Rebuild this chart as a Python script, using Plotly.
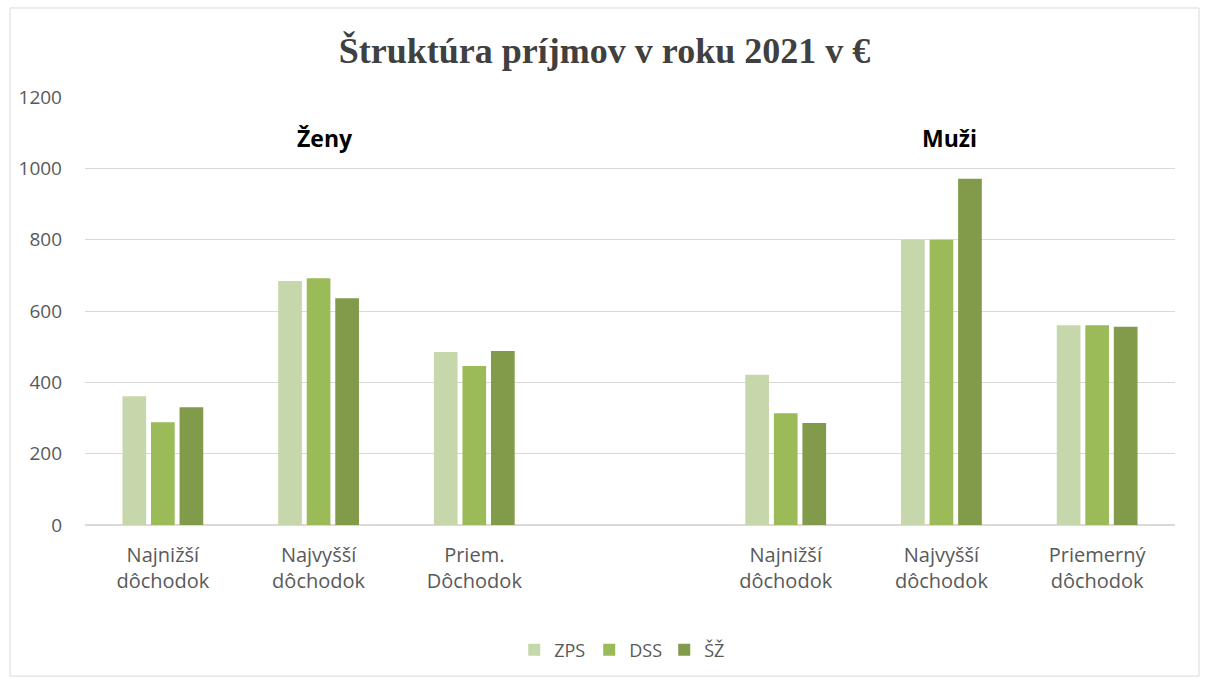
import plotly.graph_objects as go

categories = ["Najnižší<br>dôchodok", "Najvyšší<br>dôchodok", "Priem.<br>Dôchodok", "",
              "Najnižší<br>dôchodok", "Najvyšší<br>dôchodok", "Priemerný<br>dôchodok"]
series_names = ["ZPS", "DSS", "ŠŽ"]
zps = [361, 684, 485, None, 421, 800, 560]
dss = [288, 692, 446, None, 313, 800, 560]
sz = [330, 636, 488, None, 286, 971, 556]
colors = ["#C6D7AB", "#9BBB59", "#819B4A"]
y_ticks = [0, 200, 400, 600, 800, 1000, 1200]
group_labels = ["Ženy", "Muži"]
group_pos = [1.04, 5.05]

xs = list(range(len(categories)))
fig = go.Figure()
for name, vals, col in zip(series_names, [zps, dss, sz], colors):
    fig.add_trace(go.Bar(x=xs, y=vals, name=name, marker_color=col,
                         marker_line_width=0))

font_main = "Open Sans, sans-serif"
fig.update_layout(
    width=1209, height=680,
    paper_bgcolor="white", plot_bgcolor="white",
    margin=dict(l=85, r=34, t=97, b=155),
    barmode="group", bargap=0.45, bargroupgap=0.17,
    title=dict(text="<b>Štruktúra príjmov v roku 2021 v €</b>",
               font=dict(family="Liberation Serif, Times New Roman, serif", size=36, color="#404040"),
               x=0.5, xanchor="center", y=0.926, yanchor="middle"),
    showlegend=True,
    legend=dict(orientation="h", x=0.497, xanchor="center", y=-0.292, yanchor="middle",
                font=dict(family=font_main, size=18, color="#595959"),
                itemwidth=30, entrywidth=30, entrywidthmode="pixels", traceorder="normal"),
    font=dict(family=font_main, color="#595959"),
)
fig.update_xaxes(tickmode="array", tickvals=xs, ticktext=categories,
                 range=[-0.5, len(categories) - 0.5], showgrid=False,
                 tickfont=dict(size=20, color="#595959"), ticks="", showline=False, zeroline=False,
                 ticklabelstandoff=16)
fig.update_yaxes(range=[0, 1200], tickvals=y_ticks, showgrid=True, gridcolor="#D9D9D9",
                 gridwidth=1, zeroline=True, zerolinecolor="#D9D9D9", zerolinewidth=1.5,
                 tickfont=dict(size=19, color="#595959"), ticks="", ticklabelstandoff=22)
for lab, pos in zip(group_labels, group_pos):
    fig.add_annotation(x=pos, y=0.904, xref="x", yref="paper", text=f"<b>{lab}</b>",
                       yanchor="middle", showarrow=False,
                       font=dict(family=font_main, size=23, color="black"))
fig.add_shape(type="rect", xref="paper", yref="paper", x0=-0.0688, x1=1.022, y0=-0.353, y1=1.208,
              line=dict(color="#D9D9D9", width=1), fillcolor="rgba(0,0,0,0)", layer="below")
fig.write_html("out.html", config={"displayModeBar": False},
               post_script="document.body.style.margin='0';")
